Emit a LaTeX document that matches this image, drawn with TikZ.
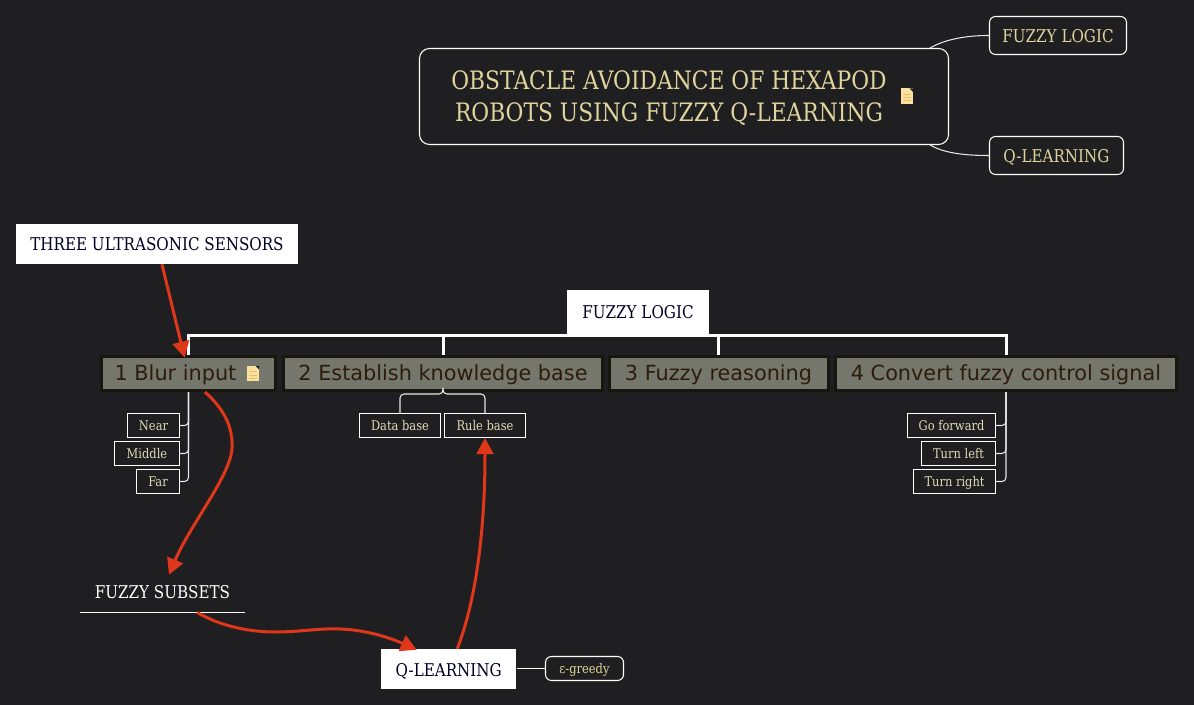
\documentclass[tikz,border=0pt]{standalone}
\usepackage{fontspec}
\setmainfont[FakeStretch=0.86]{DejaVu Serif}
\newfontfamily\topicfont{DejaVu Sans}
\usetikzlibrary{calc}
\usetikzlibrary{arrows.meta}
\definecolor{canvas}{HTML}{1F1F21}
\definecolor{tantext}{HTML}{DFD49C}
\definecolor{subtext}{HTML}{DEDAB6}
\definecolor{topicfill}{HTML}{75766C}
\definecolor{topicedge}{HTML}{17170F}
\definecolor{topictext}{HTML}{2B1C0C}
\definecolor{linkred}{HTML}{E0361A}
\definecolor{notefill}{HTML}{FBE2A0}
\definecolor{noteline}{HTML}{E6BE62}
\tikzset{
  tagbox/.style={draw=white, line width=0.8pt, rounded corners=4.5pt, fill=canvas, text=tantext, inner sep=0pt, text height=12.5pt, text depth=2pt, font=\fontsize{13.2pt}{15pt}\selectfont},
  rootbox/.style={tagbox, rounded corners=7.5pt},
  roottext/.style={text=tantext, align=center, inner sep=0pt, font=\fontsize{19pt}{24pt}\selectfont},
  whitebox/.style={fill=white, text=black!85!blue, inner sep=0pt, text height=12.5pt, text depth=2pt, font=\fontsize{13.2pt}{15pt}\selectfont},
  topic/.style={draw=topicedge, line width=2.25pt, fill=topicfill, text=topictext, inner sep=0pt, minimum height=25.5pt, text height=12.8pt, text depth=2pt, font=\topicfont\fontsize{15.6pt}{20pt}\selectfont},
  leaf/.style={draw=white, line width=0.8pt, fill=canvas, text=subtext, inner sep=0pt, minimum height=18pt, text height=8.8pt, text depth=2pt, font=\fontsize{10pt}{12pt}\selectfont},
  noteicon/.style={fill=notefill, inner sep=0pt, minimum width=9pt, minimum height=11.5pt, path picture={
    \foreach \f in {0.4,0.6,0.8}
      \draw[noteline, line width=0.7pt] ($(path picture bounding box.north west)!\f!(path picture bounding box.south west)+(1.5pt,0)$) -- ++(6pt,0);
    \fill[canvas] (path picture bounding box.north east) -- ++(-2.6pt,0) -- ++(2.6pt,-2.6pt) -- cycle;}},
  busline/.style={draw=white, line width=2.25pt},
  subline/.style={draw=white!90!black, line width=0.8pt, rounded corners=3pt},
  redlink/.style={draw=linkred, line width=2.25pt, -{Triangle[length=12pt, width=12.5pt]}},
}
\begin{document}
\begin{tikzpicture}[x=0.75pt, y=-0.75pt]
  \fill[canvas] (0,0) rectangle (1194,705);
  \useasboundingbox (0,0) rectangle (1194,705);

  % title and its two tags
  \node[rootbox, minimum width=396.75pt, minimum height=72pt] (root) at (684,96.5) {};
  \node[roottext] (roottitle) at (669,98) {OBSTACLE AVOIDANCE OF HEXAPOD\\ROBOTS USING FUZZY Q-LEARNING};
  \node[noteicon] (rootnote) at (907,96) {};
  \node[tagbox, minimum width=102.75pt, minimum height=28.5pt] (tagfuzzy) at (1058,35.5) {FUZZY LOGIC};
  \node[tagbox, minimum width=100.5pt, minimum height=28.5pt] (tagq) at (1056.5,155.5) {Q-LEARNING};

  % boxes
  \node[whitebox, minimum width=211.5pt, minimum height=30pt] (sensors) at (157,244) {THREE ULTRASONIC SENSORS};
  \node[whitebox, minimum width=106.5pt, minimum height=33pt] (central) at (638,312) {FUZZY LOGIC};
  \coordinate (bus) at (638,336);

  % the four steps
  \node[topic, minimum width=130.5pt] (blur) at (188.5,373.5) {1 Blur input\hspace*{19.5pt}};
  \node[noteicon] (blurnote) at (253,373.5) {};
  \node[topic, minimum width=239.25pt] (knowledge) at (443,373.5) {2 Establish knowledge base};
  \node[topic, minimum width=164.25pt] (reasoning) at (718.5,373.5) {3 Fuzzy reasoning};
  \node[topic, minimum width=255.75pt] (convert) at (1006,373.5) {4 Convert fuzzy control signal};

  % leaves
  \node[leaf, minimum width=39pt] (near) at (153.5,425.5) {Near};
  \node[leaf, minimum width=48.75pt] (middle) at (147,453.5) {Middle};
  \node[leaf, minimum width=32.25pt] (far) at (158,481.5) {Far};
  \node[leaf, minimum width=60.75pt] (database) at (400,425.5) {Data base};
  \node[leaf, minimum width=60.75pt] (rulebase) at (485,425.5) {Rule base};
  \node[leaf, minimum width=66pt] (goforward) at (951.5,425.5) {Go forward};
  \node[leaf, minimum width=55.5pt] (turnleft) at (958.5,453.5) {Turn left};
  \node[leaf, minimum width=61.5pt] (turnright) at (954.5,481.5) {Turn right};

  % lower part
  \node[inner sep=0pt, text=white, minimum width=123.75pt, minimum height=30pt, text height=11pt, text depth=2pt, font=\fontsize{13.2pt}{15pt}\selectfont] (subsets) at (162.5,592) {FUZZY SUBSETS};
  \node[whitebox, minimum width=101.25pt, minimum height=30pt] (qlearn) at (448.75,669) {Q-LEARNING};
  \node[tagbox, minimum width=58.5pt, minimum height=18pt, text height=8.8pt, font=\fontsize{10pt}{12pt}\selectfont] (greedy) at (584.5,668.5) {ε-greedy};

  % plain connectors
  \draw[subline] ($(root.north east)+(-19,0)$) .. controls +(14,-8) and +(-25,0) .. (tagfuzzy.west);
  \draw[subline] ($(root.south east)+(-19,0)$) .. controls +(14,8) and +(-25,0) .. (tagq.west);
  \foreach \n in {blur,knowledge,reasoning,convert}
    \draw[busline] (central.south) -- (bus) -| (\n.north);
  \foreach \n in {near,middle,far}
    \draw[subline] (blur.south) |- (\n.east);
  \foreach \n in {database,rulebase}
    \draw[subline] (knowledge.south) -- ++(0,2) -| (\n.north);
  \foreach \n in {goforward,turnleft,turnright}
    \draw[subline] (convert.south) |- (\n.east);
  \draw[draw=white, line width=0.8pt] (subsets.south west) -- (subsets.south east);
  \draw[draw=white, line width=0.8pt] (qlearn.east |- greedy.west) -- (greedy.west);

  % red links
  \draw[redlink, shorten >=-2pt] (sensors) -- (blur);
  \draw[redlink] ($(blur.south)+(16.5,0)$) .. controls +(20,18) and (233,428) .. (232,448)
        .. controls (231,475) and (190,525) .. ($(subsets.north)+(6.5,3)$);
  \draw[redlink] ($(subsets.south)+(34.5,0)$) .. controls +(23,14) and (250,632) .. (275,632)
        .. controls (300,632) and (320,628) .. (340,629)
        .. controls (370,630) and (395,640) .. ($(qlearn.north)+(-32,1)$);
  \draw[redlink] ($(qlearn.north)+(8.5,0)$) .. controls (480,590) and (485,510) .. (rulebase.south);
\end{tikzpicture}
\end{document}
